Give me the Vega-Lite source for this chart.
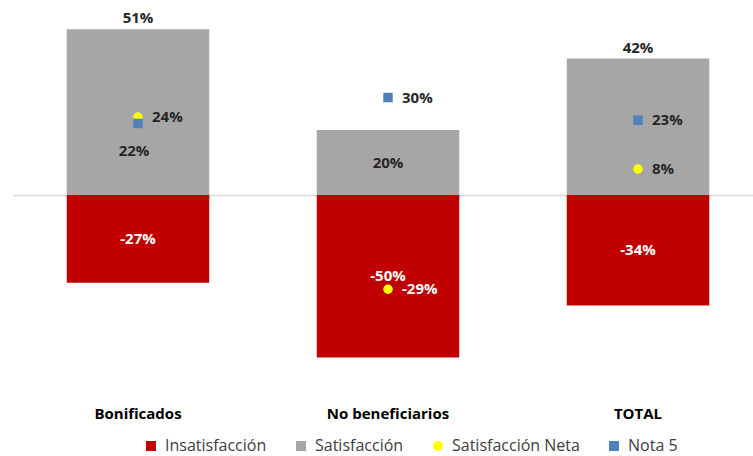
{
  "$schema": "https://vega.github.io/schema/vega-lite/v6.json",
  "width": 750,
  "height": 390,
  "padding": {"left": 13, "top": 0, "right": 0, "bottom": 0},
  "config": {
    "view": {"stroke": null},
    "font": "Open Sans",
    "locale": {"number": {"decimal": ".", "thousands": ",", "grouping": [3], "currency": ["$", ""], "minus": "-"}},
    "legend": {
      "orient": "none",
      "legendX": 130,
      "legendY": 438,
      "direction": "horizontal",
      "labelFont": "Open Sans",
      "labelFontSize": 16,
      "labelColor": "#404040",
      "labelLimit": 300,
      "symbolSize": 100,
      "symbolStrokeWidth": 0,
      "columnPadding": 26,
      "labelOffset": 6,
      "title": null
    }
  },
  "data": {
    "values": [
      {"cat": "Bonificados", "series": "Insatisfacción", "value": -0.27},
      {"cat": "No beneficiarios", "series": "Insatisfacción", "value": -0.50},
      {"cat": "TOTAL", "series": "Insatisfacción", "value": -0.34},
      {"cat": "Bonificados", "series": "Satisfacción", "value": 0.51},
      {"cat": "No beneficiarios", "series": "Satisfacción", "value": 0.20},
      {"cat": "TOTAL", "series": "Satisfacción", "value": 0.42},
      {"cat": "Bonificados", "series": "Satisfacción Neta", "value": 0.24},
      {"cat": "No beneficiarios", "series": "Satisfacción Neta", "value": -0.29},
      {"cat": "TOTAL", "series": "Satisfacción Neta", "value": 0.08},
      {"cat": "Bonificados", "series": "Nota 5", "value": 0.22},
      {"cat": "No beneficiarios", "series": "Nota 5", "value": 0.30},
      {"cat": "TOTAL", "series": "Nota 5", "value": 0.23}
    ]
  },
  "resolve": {"scale": {"y": "independent"}, "axis": {"x": "independent"}},
  "layer": [
    {
      "transform": [{"filter": {"field": "series", "oneOf": ["Insatisfacción", "Satisfacción"]}}],
      "mark": {"type": "point", "opacity": 0},
      "encoding": {
        "x": {"field": "cat", "type": "nominal", "sort": null,
              "scale": {"paddingInner": 0.43, "paddingOuter": 0.215},
              "axis": {"orient": "bottom", "offset": -195, "labels": false, "title": null,
                       "domain": true, "domainColor": "#D9D9D9", "domainWidth": 1.5,
                       "ticks": true, "tickBand": "extent", "tickSize": 4, "tickColor": "#D9D9D9"}},
        "y": {"field": "value", "type": "quantitative", "scale": {"domain": [-0.6, 0.6]}, "axis": null}
      }
    },
    {
      "transform": [{"filter": {"field": "series", "oneOf": ["Insatisfacción", "Satisfacción"]}}],
      "mark": {"type": "bar"},
      "encoding": {
        "x": {"field": "cat", "type": "nominal", "sort": null,
              "axis": {"orient": "bottom", "domain": false, "ticks": false, "title": null,
                       "labelAngle": 0, "labelFont": "Open Sans", "labelFontSize": 15, "labelFontWeight": "bold",
                       "labelColor": "#000000", "labelPadding": 16}},
        "y": {"field": "value", "type": "quantitative", "stack": null, "scale": {"domain": [-0.6, 0.6]}, "axis": null},
        "color": {"field": "series", "type": "nominal", "title": null,
                  "scale": {"domain": ["Insatisfacción", "Satisfacción", "Satisfacción Neta", "Nota 5"],
                            "range": ["#C00000", "#A6A6A6", "#FFFF00", "#4F81BD"]}}
      }
    },
    {
      "transform": [{"filter": "datum.series == 'Insatisfacción' || (datum.series == 'Satisfacción' && datum.cat == 'No beneficiarios')"}],
      "mark": {"type": "text", "font": "Open Sans", "fontSize": 15, "fontWeight": "bold", "baseline": "middle"},
      "encoding": {
        "x": {"field": "cat", "type": "nominal", "sort": null, "axis": null},
        "y": {"field": "value", "type": "quantitative", "scale": {"domain": [-1.2, 1.2]}, "axis": null},
        "text": {"field": "value", "type": "quantitative", "format": ".0%"},
        "color": {"condition": {"test": "datum.value < 0", "value": "#FFFFFF"}, "value": "#262626"}
      }
    },
    {
      "transform": [{"filter": "datum.series == 'Satisfacción' && datum.cat != 'No beneficiarios'"}],
      "mark": {"type": "text", "font": "Open Sans", "fontSize": 15, "fontWeight": "bold", "baseline": "middle", "dy": -11, "color": "#262626"},
      "encoding": {
        "x": {"field": "cat", "type": "nominal", "sort": null, "axis": null},
        "y": {"field": "value", "type": "quantitative", "scale": {"domain": [-0.6, 0.6]}, "axis": null},
        "text": {"field": "value", "type": "quantitative", "format": ".0%"}
      }
    },
    {
      "transform": [{"filter": {"field": "series", "oneOf": ["Satisfacción Neta", "Nota 5"]}}],
      "mark": {"type": "point", "filled": true, "size": 90, "opacity": 1},
      "encoding": {
        "x": {"field": "cat", "type": "nominal", "sort": null, "axis": null},
        "y": {"field": "value", "type": "quantitative", "scale": {"domain": [-0.6, 0.6]}, "axis": null},
        "color": {"field": "series", "type": "nominal", "title": null},
        "shape": {"field": "series", "type": "nominal", "title": null,
                  "scale": {"domain": ["Insatisfacción", "Satisfacción", "Satisfacción Neta", "Nota 5"],
                            "range": ["square", "square", "circle", "square"]}}
      }
    },
    {
      "transform": [{"filter": "(datum.series == 'Satisfacción Neta' || datum.series == 'Nota 5') && !(datum.series == 'Nota 5' && datum.cat == 'Bonificados')"}],
      "mark": {"type": "text", "font": "Open Sans", "fontSize": 15, "fontWeight": "bold", "baseline": "middle", "align": "left", "dx": 14},
      "encoding": {
        "x": {"field": "cat", "type": "nominal", "sort": null, "axis": null},
        "y": {"field": "value", "type": "quantitative", "scale": {"domain": [-0.6, 0.6]}, "axis": null},
        "text": {"field": "value", "type": "quantitative", "format": ".0%"},
        "color": {"condition": {"test": "datum.value < 0", "value": "#FFFFFF"}, "value": "#262626"}
      }
    },
    {
      "transform": [{"filter": "datum.series == 'Nota 5' && datum.cat == 'Bonificados'"}],
      "mark": {"type": "text", "font": "Open Sans", "fontSize": 15, "fontWeight": "bold", "baseline": "middle", "align": "center", "dx": -4, "dy": 27, "color": "#262626"},
      "encoding": {
        "x": {"field": "cat", "type": "nominal", "sort": null, "axis": null},
        "y": {"field": "value", "type": "quantitative", "scale": {"domain": [-0.6, 0.6]}, "axis": null},
        "text": {"field": "value", "type": "quantitative", "format": ".0%"}
      }
    }
  ]
}
